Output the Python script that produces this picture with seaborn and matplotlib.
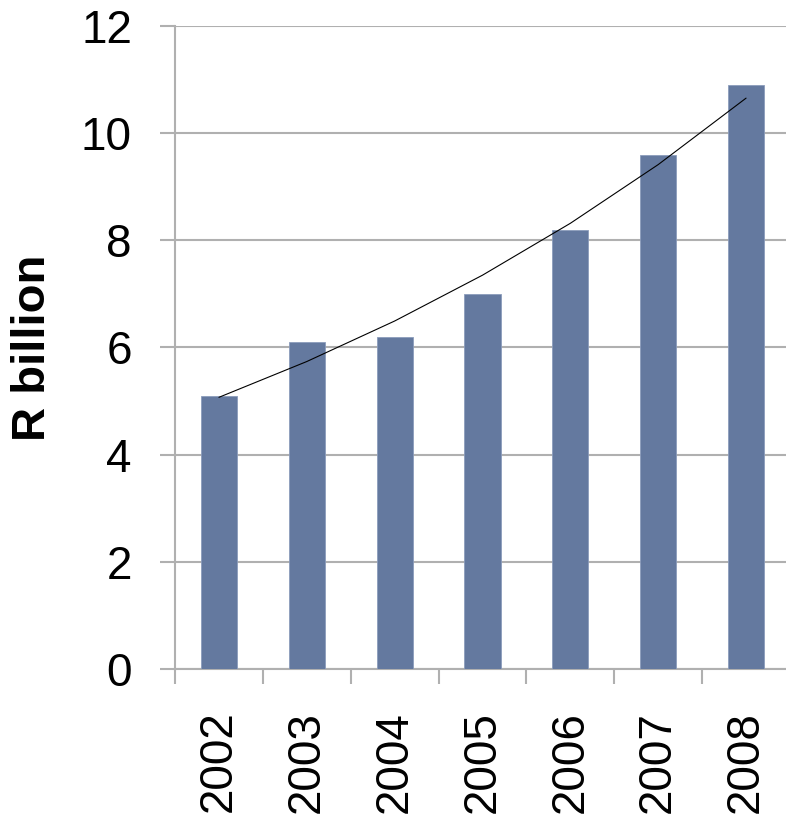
import numpy as np
import matplotlib
matplotlib.use("Agg")
import matplotlib.pyplot as plt
import pandas as pd
import seaborn as sns
from matplotlib.ticker import FixedLocator

years = ["2002", "2003", "2004", "2005", "2006", "2007", "2008"]
values = [5.1, 6.1, 6.2, 7.0, 8.2, 9.6, 10.9]
yticks = [0, 2, 4, 6, 8, 10, 12]

df = pd.DataFrame({"year": years, "value": values})

sns.set_style("white")
plt.rcParams["font.family"] = ["Liberation Sans", "DejaVu Sans"]
plt.rcParams["text.color"] = "black"
plt.rcParams["xtick.labelcolor"] = "black"
plt.rcParams["ytick.labelcolor"] = "black"
plt.rcParams["axes.labelcolor"] = "black"

fig = plt.figure(figsize=(7.86, 8.21), dpi=100)
ax = fig.add_axes([175 / 786, 152 / 821, 615 / 786, 643 / 821])

sns.barplot(data=df, x="year", y="value", color="#64799F", width=0.41,
            saturation=1, edgecolor="#8B9CBC", linewidth=0.6, ax=ax, zorder=3)

# exponential trendline fitted to the bars
xs = np.arange(len(values))
b, a = np.polyfit(xs, np.log(values), 1)
ax.plot(xs, np.exp(a + b * xs), color="black", lw=0.8, zorder=4)

ax.set_xlim(-0.5, len(years) - 0.5)
ax.set_ylim(0, 12)
ax.set_yticks(yticks)
ax.yaxis.grid(True, color="#B0B0B0", lw=1.5, zorder=0)
ax.set_axisbelow(True)

for s in ["top", "right"]:
    ax.spines[s].set_visible(False)
for s in ["left", "bottom"]:
    ax.spines[s].set_color("#B0B0B0")
    ax.spines[s].set_linewidth(1.5)

ax.tick_params(axis="y", length=11, width=1.5, color="#B0B0B0",
               labelsize=33, pad=20, left=True)
ax.xaxis.set_minor_locator(FixedLocator(np.arange(-0.5, len(years), 1.0)))
ax.tick_params(axis="x", which="minor", length=11, width=1.5,
               color="#B0B0B0", bottom=True)
ax.tick_params(axis="x", which="major", length=0, labelsize=33, pad=30)
plt.setp(ax.get_xticklabels(), rotation=90, ha="center", va="top")

ax.set_xlabel("")
ax.set_ylabel("R billion", fontsize=34, fontweight="bold", labelpad=19)

fig.savefig("out.png", dpi=100)
